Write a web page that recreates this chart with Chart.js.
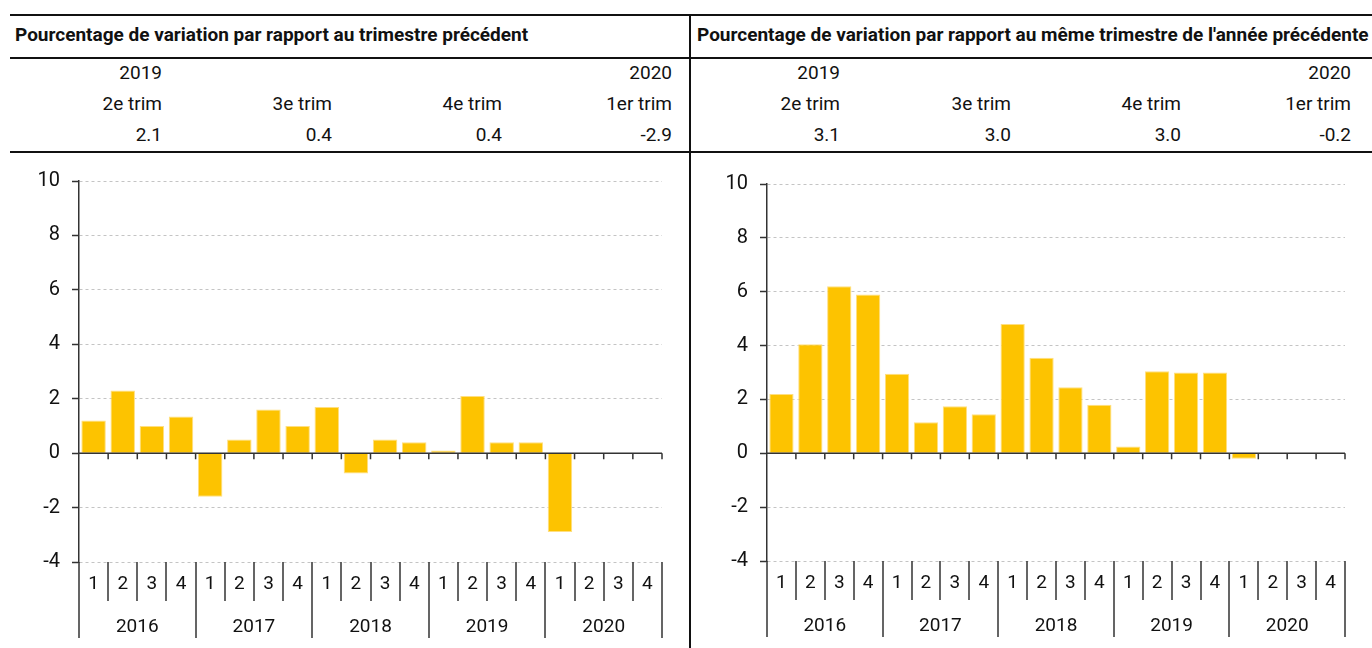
<!DOCTYPE html>
<html>
<head>
<meta charset="utf-8">
<script src="https://cdn.jsdelivr.net/npm/chart.js@4"></script>
<style>
  body { margin: 0; background: #fff; width: 1372px; height: 648px; overflow: hidden; position: relative;
         font-family: Roboto, "Noto Sans", sans-serif; color: #111; }
  .rule { position: absolute; background: #111; }
  .title { position: absolute; top: 15px; height: 40px; line-height: 40px; font-weight: bold; font-size: 19px; white-space: nowrap; overflow: hidden; }
  .cell { position: absolute; width: 120px; height: 24px; line-height: 24px; text-align: right; font-size: 19px; white-space: nowrap; }
  .panel { position: absolute; top: 160px; }
</style>
</head>
<body>
<div class="rule" style="left:10px; top:14px; width:1362px; height:2px"></div>
<div class="rule" style="left:10px; top:57px; width:1362px; height:2px"></div>
<div class="rule" style="left:10px; top:151px; width:1362px; height:2px"></div>
<div class="rule" style="left:689px; top:14px; width:2px; height:634px"></div>

<div class="title" style="left:15px; width:670px">Pourcentage de variation par rapport au trimestre précédent</div>
<div class="title" style="left:697px; width:675px">Pourcentage de variation par rapport au même trimestre de l'année précédente</div>

<div id="table"></div>

<div class="panel" style="left:0"><canvas id="qoqChart" width="690" height="488"></canvas></div>
<div class="panel" style="left:690px"><canvas id="yoyChart" width="682" height="488"></canvas></div>

<script>
// bar data, 2016 T1 .. 2020 T4
const years = ["2016", "2017", "2018", "2019", "2020"];
const quarters = ["1", "2", "3", "4"];
const qoqValues = [1.2, 2.3, 1.0, 1.35, -1.6, 0.5, 1.6, 1.0, 1.7, -0.75, 0.5, 0.4, 0.1, 2.1, 0.4, 0.4, -2.9, null, null, null];
const yoyValues = [2.2, 4.05, 6.2, 5.9, 2.95, 1.15, 1.75, 1.45, 4.8, 3.55, 2.45, 1.8, 0.25, 3.05, 3.0, 3.0, -0.2, null, null, null];
const yTicks = [-4, -2, 0, 2, 4, 6, 8, 10];

// table above the charts
const tableYears = ["2019", "", "", "2020"];
const tableQuarters = ["2e trim", "3e trim", "4e trim", "1er trim"];
const qoqLatest = ["2.1", "0.4", "0.4", "-2.9"];
const yoyLatest = ["3.1", "3.0", "3.0", "-0.2"];

const BAR_COLOR = "#FDC300";
const LINE_COLOR = "#333";
const FONT = "Roboto, 'Noto Sans', sans-serif";

function buildTable(){
  const table = document.getElementById("table");
  const panels = [
    { rights: [162, 332, 502, 672], values: qoqLatest },
    { rights: [840, 1011, 1181, 1351], values: yoyLatest }
  ];
  const rows = [73, 104, 135];
  panels.forEach(p => {
    const cols = [tableYears, tableQuarters, p.values];
    cols.forEach((texts, r) => {
      texts.forEach((t, i) => {
        if(!t) return;
        const d = document.createElement("div");
        d.className = "cell";
        d.style.left = (p.rights[i] - 120) + "px";
        d.style.top = (rows[r] - 12) + "px";
        d.textContent = t;
        table.appendChild(d);
      });
    });
  });
}

// zero line, quarter / year labels and separators under the plot
const groupedAxis = {
  id: "groupedAxis",
  afterDraw(chart){
    const {ctx, chartArea: area, scales: {x, y}} = chart;
    const n = x.getLabels().length;
    const half = (x.getPixelForValue(1) - x.getPixelForValue(0)) / 2;
    const zero = y.getPixelForValue(0);
    const bottom = area.bottom;
    ctx.save();
    ctx.strokeStyle = LINE_COLOR;
    ctx.lineWidth = 1.5;

    ctx.beginPath();
    ctx.moveTo(area.left, zero);
    ctx.lineTo(area.right, zero);
    for(let k = 1; k <= n; k++){
      const bx = x.getPixelForValue(k) - half;
      ctx.moveTo(bx, zero);
      ctx.lineTo(bx, zero + 6);
    }
    for(let k = 0; k <= n; k++){
      const bx = Math.round(x.getPixelForValue(k) - half);
      const len = (k % 4 === 0) ? 76 : 39;
      ctx.moveTo(bx, bottom);
      ctx.lineTo(bx, bottom + len);
    }
    ctx.stroke();

    ctx.fillStyle = "#111";
    ctx.textAlign = "center";
    ctx.textBaseline = "middle";
    ctx.font = "19px " + FONT;
    for(let i = 0; i < n; i++){
      ctx.fillText(quarters[i % 4], x.getPixelForValue(i), bottom + 22);
    }
    years.forEach((yr, j) => {
      const cx = (x.getPixelForValue(j * 4 + 1) + x.getPixelForValue(j * 4 + 2)) / 2;
      ctx.fillText(yr, cx, bottom + 65);
    });
    ctx.restore();
  }
};

function makeChart(id, values, yWidth, pad){
  const labels = years.flatMap(yr => quarters.map(q => yr + " T" + q));
  return new Chart(document.getElementById(id), {
    type: "bar",
    data: {
      labels,
      datasets: [{
        data: values,
        backgroundColor: BAR_COLOR,
        borderColor: "#FFDF80",
        borderWidth: 1,
        categoryPercentage: 1,
        barPercentage: 0.84
      }]
    },
    options: {
      responsive: false,
      animation: false,
      layout: { padding: pad },
      plugins: { legend: { display: false }, tooltip: { enabled: false } },
      scales: {
        x: { display: false },
        y: {
          min: -4,
          max: 10,
          afterFit: s => { s.width = yWidth; s.paddingTop = 0; s.paddingBottom = 0; },
          afterBuildTicks: s => { s.ticks = yTicks.map(v => ({ value: v })); },
          ticks: { color: "#111", padding: 12, font: { family: FONT, size: 20 } },
          grid: { color: "#c4c4c4", tickColor: LINE_COLOR, tickLength: 7, tickWidth: 1.5 },
          border: { color: LINE_COLOR, width: 1.5, dash: [3, 3] }
        }
      }
    },
    plugins: [groupedAxis]
  });
}

buildTable();
makeChart("qoqChart", qoqValues, 79, { left: 0, right: 28, top: 21, bottom: 86 });
makeChart("yoyChart", yoyValues, 77, { left: 0, right: 27, top: 24, bottom: 87 });
</script>
</body>
</html>
